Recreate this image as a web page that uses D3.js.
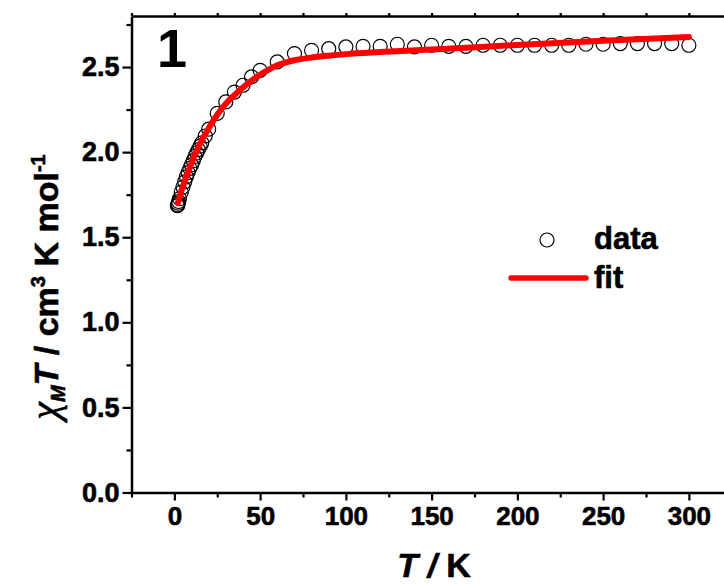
<!DOCTYPE html>
<html>
<head>
<meta charset="utf-8">
<script src="https://cdn.jsdelivr.net/npm/d3@7"></script>
<style>
  html, body { margin: 0; padding: 0; background: #fff; }
  svg { display: block; }
  text { font-family: "Liberation Sans", Arial, sans-serif; font-weight: bold; fill: #000; }
  .heavy { stroke: #000; stroke-width: 0.6px; }
</style>
</head>
<body>
<svg id="chart" width="724" height="585"></svg>
<script>
// Measured chi_M*T (cm3 K mol-1) versus temperature (K)
const dataT = [1.8, 2.0, 2.2, 2.5, 3, 4, 5, 6, 7, 8, 9, 10, 11, 12, 13, 14, 15, 16, 18, 20,
  25, 30, 35, 40, 45, 50, 60, 70, 80, 90, 100, 110, 120, 130, 140, 150, 160, 170, 180, 190,
  200, 210, 220, 230, 240, 250, 260, 270, 280, 290, 300];
const dataChiT = [1.685, 1.69, 1.70, 1.71, 1.727, 1.765, 1.795, 1.825, 1.855, 1.88, 1.905, 1.925, 1.95, 1.975, 1.995, 2.015, 2.035, 2.055, 2.095, 2.135,
  2.228, 2.295, 2.353, 2.393, 2.442, 2.481, 2.53, 2.579, 2.598, 2.608, 2.618, 2.622, 2.622, 2.634, 2.618, 2.628, 2.622, 2.622, 2.628, 2.628,
  2.628, 2.628, 2.628, 2.628, 2.634, 2.634, 2.638, 2.638, 2.638, 2.638, 2.628];

// Fitted curve
const fitT = [2, 3, 4, 5, 6, 8, 10, 12, 15, 20, 25, 30, 35, 40, 45, 50, 55, 60, 70, 80, 90, 100, 120, 150, 200, 250, 300];
const fitChiT = [1.70, 1.735, 1.77, 1.80, 1.83, 1.885, 1.935, 1.985, 2.05, 2.14, 2.22, 2.285, 2.335, 2.38, 2.42, 2.455, 2.485, 2.51, 2.54, 2.556, 2.567, 2.576, 2.588, 2.603, 2.63, 2.655, 2.677];

// Axis ticks
const xTicks = d3.range(-25, 326, 25);
const xLabels = [0, 50, 100, 150, 200, 250, 300];
const yTicks = d3.range(0, 2.76, 0.25);
const yLabels = [0, 0.5, 1.0, 1.5, 2.0, 2.5];

const svg = d3.select("#chart");

const x = d3.scaleLinear().domain([-25, 325]).range([131.5, 731.75]);
const y = d3.scaleLinear().domain([0, 2.8]).range([492.5, 16]);

const isLabel = (list, v) => list.some(l => Math.abs(l - v) < 1e-6);

// Bottom axis
const gx = svg.append("g").attr("transform", `translate(0,${y(0)})`)
  .call(d3.axisBottom(x).tickValues(xTicks).tickSizeOuter(0)
    .tickFormat(d => isLabel(xLabels, d) ? d3.format("d")(d) : ""));
gx.selectAll(".tick line").attr("y2", d => isLabel(xLabels, d) ? 8 : 5);
gx.selectAll(".tick text").attr("y", 14).style("font-size", "26px");

// Top axis (ticks only)
svg.append("g").attr("transform", `translate(0,${y(2.8)})`)
  .call(d3.axisTop(x).tickValues(xTicks).tickSize(3).tickSizeOuter(0).tickFormat(""));

// Left axis
const gy = svg.append("g").attr("transform", `translate(${x(-25)},0)`)
  .call(d3.axisLeft(y).tickValues(yTicks).tickSizeOuter(0)
    .tickFormat(d => isLabel(yLabels, d) ? d3.format(".1f")(d) : ""));
gy.selectAll(".tick line").attr("x2", d => isLabel(yLabels, d) ? -9 : -5);
gy.selectAll(".tick text").attr("x", -12).style("font-size", "27px");

svg.selectAll(".domain").attr("stroke", "#000").attr("stroke-width", 2.5);
svg.selectAll(".tick line").attr("stroke", "#000").attr("stroke-width", 2.2);
svg.selectAll(".tick text").attr("font-family", null).classed("heavy", true);

// Data points
svg.append("g").selectAll("circle")
  .data(dataT.map((t, i) => [t, dataChiT[i]]))
  .join("circle")
  .attr("cx", d => x(d[0]))
  .attr("cy", d => y(d[1]))
  .attr("r", 7)
  .attr("fill", "none")
  .attr("stroke", "#000")
  .attr("stroke-width", 1.2);

// Fit line
const line = d3.line().x(d => x(d[0])).y(d => y(d[1])).curve(d3.curveMonotoneX);
svg.append("path")
  .datum(fitT.map((t, i) => [t, fitChiT[i]]))
  .attr("d", line)
  .attr("fill", "none")
  .attr("stroke", "#ff0000")
  .attr("stroke-width", 6)
  .attr("stroke-linecap", "round");

// Panel label
svg.append("text").attr("x", 157).attr("y", 67).style("font-size", "54px").text("1");

// Legend
svg.append("circle").attr("cx", 547).attr("cy", 240).attr("r", 7)
  .attr("fill", "none").attr("stroke", "#000").attr("stroke-width", 1.2);
svg.append("text").attr("class", "heavy").attr("x", 594).attr("y", 249).style("font-size", "31px").text("data");
svg.append("line").attr("x1", 511).attr("x2", 586).attr("y1", 278).attr("y2", 278)
  .attr("stroke", "#ff0000").attr("stroke-width", 5.5).attr("stroke-linecap", "round");
svg.append("text").attr("class", "heavy").attr("x", 594).attr("y", 288).style("font-size", "31px").text("fit");

// Axis titles
const xt = svg.append("text").attr("class", "heavy").attr("x", 434).attr("y", 577)
  .attr("text-anchor", "middle").style("font-size", "34px");
xt.append("tspan").style("font-style", "italic").text("T");
xt.append("tspan").style("font-style", "italic").text(" /");
xt.append("tspan").text(" K");

const yt = svg.append("text").attr("class", "heavy").attr("transform", "translate(58,287) rotate(-90)")
  .attr("text-anchor", "middle").style("font-size", "34px");
yt.append("tspan").style("font-family", "'Liberation Serif', serif").style("font-style", "italic")
  .style("font-weight", "normal").style("font-size", "40px").text("χ");
yt.append("tspan").attr("dy", 7).style("font-style", "italic").style("font-size", "20px").text("M");
yt.append("tspan").attr("dy", -7).style("font-style", "italic").text("T");
yt.append("tspan").text(" / cm");
yt.append("tspan").attr("dy", -13).style("font-size", "20px").text("3");
yt.append("tspan").attr("dy", 13).text(" K mol");
yt.append("tspan").attr("dy", -13).style("font-size", "20px").text("-1");
</script>
</body>
</html>
